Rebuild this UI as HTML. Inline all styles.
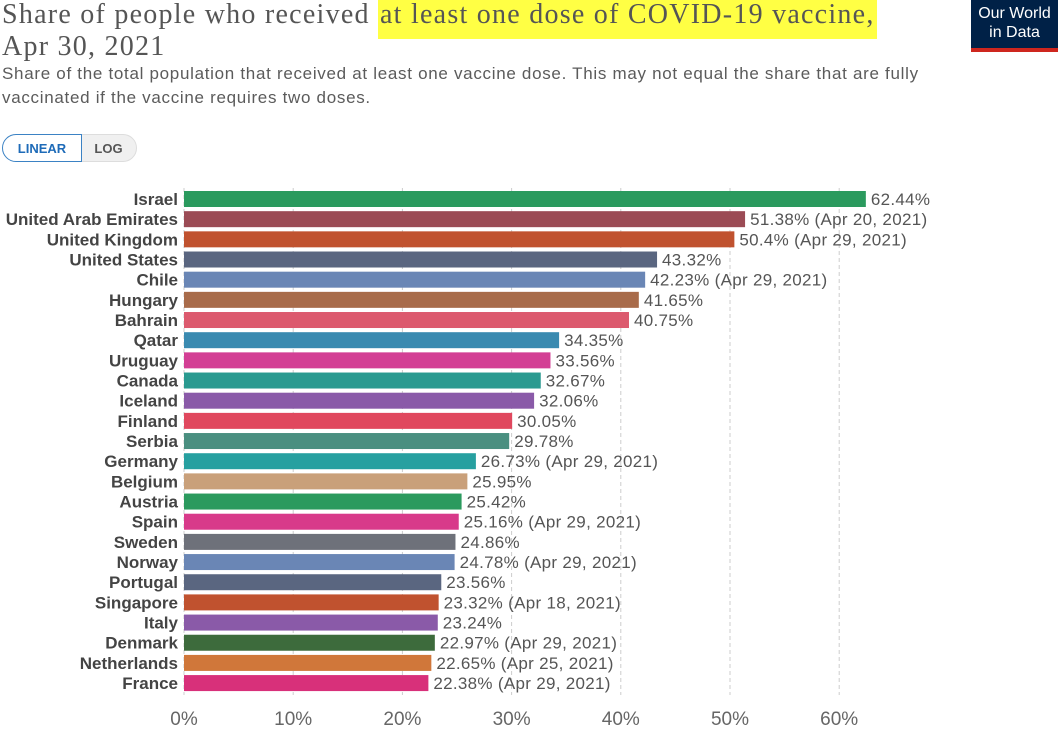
<!DOCTYPE html>
<html><head><meta charset="utf-8"><style>
body{margin:0;width:1064px;height:741px;background:#fff;overflow:hidden;font-family:"Liberation Sans",sans-serif;position:relative}
.t{position:absolute;left:2px;font-family:"Liberation Serif",serif;font-size:28px;color:#555;line-height:32px;top:-1px;letter-spacing:1.25px;white-space:nowrap}
.hl{background:#ffff44;padding:4px 2px 9px}
.s{position:absolute;left:2px;top:62px;font-size:17px;color:#5b5b5b;line-height:24px;letter-spacing:0.7px;white-space:nowrap}
.logo{position:absolute;left:971px;top:0;width:87px;background:#002147;border-bottom:4px solid #ce261e;color:#fff;font-size:16px;text-align:center;line-height:19px;padding-top:4px;height:44px}
.btn{position:absolute;top:134px;height:28px;font-size:13px;font-weight:bold;line-height:28px;text-align:center;box-sizing:border-box}
</style></head><body>
<div class="t">Share of people who received <span class="hl">at least one dose of COVID-19 vaccine,</span><br>Apr 30, 2021</div>
<div class="s">Share of the total population that received at least one vaccine dose. This may not equal the share that are fully<br>vaccinated if the vaccine requires two doses.</div>
<div class="logo">Our World<br>in Data</div>
<div class="btn" style="left:80px;width:57px;background:#f0f0f0;border:1px solid #ddd;border-radius:0 14px 14px 0;color:#555">LOG</div>
<div class="btn" style="left:2px;width:80px;border:1px solid #3b82c4;border-radius:14px 0 0 14px;color:#1e6bb8;background:#fff">LINEAR</div>
<svg width="1064" height="741" style="position:absolute;left:0;top:0" font-family="Liberation Sans, sans-serif">
<g id="g"></g>
</svg>
<script>
const d=[["Israel",62.44,"","#2b9a5e"],["United Arab Emirates",51.38," (Apr 20, 2021)","#9b4b55"],["United Kingdom",50.4," (Apr 29, 2021)","#c0522f"],["United States",43.32,"","#5a6680"],["Chile",42.23," (Apr 29, 2021)","#6a86b5"],["Hungary",41.65,"","#a86b4a"],["Bahrain",40.75,"","#dc5a6e"],["Qatar",34.35,"","#3a8ab0"],["Uruguay",33.56,"","#d33f94"],["Canada",32.67,"","#2a9a90"],["Iceland",32.06,"","#8a5aa8"],["Finland",30.05,"","#e0485e"],["Serbia",29.78,"","#4a8f80"],["Germany",26.73," (Apr 29, 2021)","#27a0a0"],["Belgium",25.95,"","#c9a07a"],["Austria",25.42,"","#2b9a5e"],["Spain",25.16," (Apr 29, 2021)","#d83a8a"],["Sweden",24.86,"","#6e717a"],["Norway",24.78," (Apr 29, 2021)","#6a86b5"],["Portugal",23.56,"","#5a6680"],["Singapore",23.32," (Apr 18, 2021)","#c0522f"],["Italy",23.24,"","#8a5aa8"],["Denmark",22.97," (Apr 29, 2021)","#3d6b3c"],["Netherlands",22.65," (Apr 25, 2021)","#d0773a"],["France",22.38," (Apr 29, 2021)","#d8307a"]];
let s="";const x0=184,k=10.92;
for(let i=0;i<=6;i++){const x=x0+i*10*k;s+=`<line x1="${x}" y1="188" x2="${x}" y2="695" stroke="#ccc" stroke-dasharray="4,3"/><text x="${x}" y="725" font-size="19" fill="#666" text-anchor="middle">${i*10}%</text>`;}
d.forEach((r,i)=>{const y=191+i*20.17,w=r[1]*k;s+=`<rect x="${x0}" y="${y}" width="${w}" height="16" fill="${r[3]}"/><text x="178" y="${y+14}" font-size="17" font-weight="bold" fill="#444" text-anchor="end">${r[0]}</text><text x="${x0+w+5}" y="${y+14}" font-size="17" fill="#555" letter-spacing="0.3">${r[1]}%${r[2]}</text>`;});
document.getElementById("g").innerHTML=s;
</script>
</body></html>
